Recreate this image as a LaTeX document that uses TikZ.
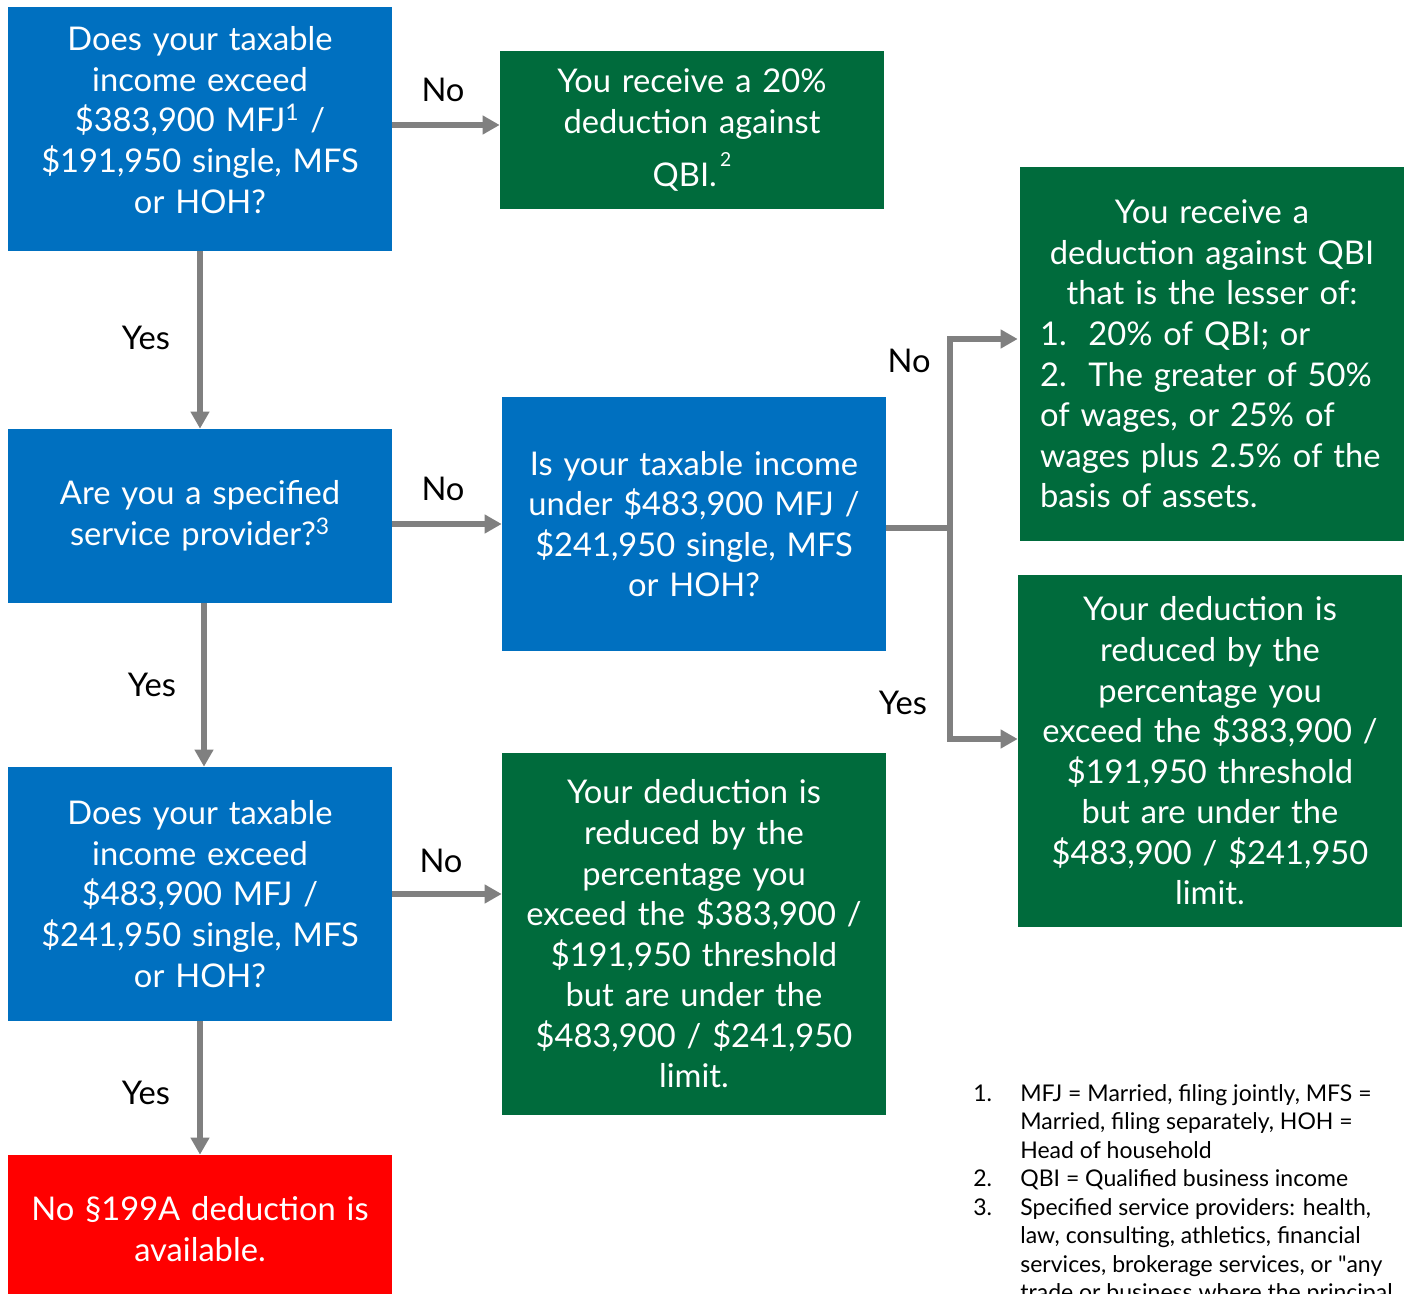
\documentclass[tikz,border=0pt]{standalone}
\usepackage{fontspec}
\setmainfont{Lato}
\usetikzlibrary{arrows.meta,calc,positioning}
\definecolor{FlowBlue}{HTML}{0070C0}
\definecolor{FlowGreen}{HTML}{006B3C}
\definecolor{FlowRed}{HTML}{FF0000}
\definecolor{FlowGray}{HTML}{808080}
\newcommand{\QBIText}{\fontsize{18.6}{23.1}\selectfont}
\newcommand{\QBINote}{\fontsize{13.1}{16.2}\selectfont}
\tikzset{
  qbase/.style={
    rectangle,
    draw=none,
    align=center,
    inner sep=0pt,
    text=white,
    font=\QBIText,
    text width=7.6cm,
    minimum width=7.68cm
  },
  askbox/.style={qbase, fill=FlowBlue},
  resultbox/.style={qbase, fill=FlowGreen},
  stopbox/.style={qbase, fill=FlowRed},
  flowarrow/.style={
    -{Triangle[length=0.34cm,width=0.36cm]},
    draw=FlowGray,
    line width=0.12cm
  },
  branchline/.style={draw=FlowGray, line width=0.12cm},
  choicelabel/.style={font=\QBIText, text=black, inner sep=0pt}
}

\begin{document}
\begin{tikzpicture}[x=0.02cm,y=-0.02cm]
\clip (0,0) rectangle (1406,1294);

% question column
\node[askbox, minimum height=4.88cm] (exceedlow) at (200,129)
  {Does your taxable\\income exceed\\\$383,900 MFJ\textsuperscript{1} /\\\$191,950 single, MFS\\or HOH?\par\vspace*{0.36cm}};
\node[askbox, minimum height=3.48cm] (provider) at (200,516)
  {Are you a specified\\service provider?\textsuperscript{3}};
\node[askbox, minimum height=5.08cm] (exceedhigh) at (200,894)
  {Does your taxable\\income exceed\\\$483,900 MFJ /\\\$241,950 single, MFS\\or HOH?};
\node[stopbox, minimum height=2.96cm] (nodeduct) at (200,1229)
  {No \S199A deduction is\\available.};

% middle column
\node[resultbox, minimum height=3.16cm] (fullded) at (692,130)
  {You receive a 20\%\\deduction against\\[0.24cm]QBI.\raisebox{1.2ex}{\fontsize{11}{11}\selectfont\,2}};
\node[askbox, minimum height=5.08cm] (underhigh) at (694,524)
  {Is your taxable income\\under \$483,900 MFJ /\\\$241,950 single, MFS\\or HOH?};
\node[resultbox, minimum height=7.24cm] (reducedmid) at (694,934)
  {Your deduction is\\reduced by the\\percentage you\\exceed the \$383,900 /\\\$191,950 threshold\\but are under the\\\$483,900 / \$241,950\\limit.};

% right column
\node[resultbox, minimum height=7.48cm, text width=6.88cm, align=left] (lesserded) at (1212,354)
  {{\centering You receive a\\deduction against QBI\\that is the lesser of:\par}
  1.\ \ 20\% of QBI; or\\
  2.\ \ The greater of 50\%\\
  of wages, or 25\% of\\
  wages plus 2.5\% of the\\
  basis of assets.};
\node[resultbox, minimum height=7.04cm] (reducedright) at (1210,751)
  {Your deduction is\\reduced by the\\percentage you\\exceed the \$383,900 /\\\$191,950 threshold\\but are under the\\\$483,900 / \$241,950\\limit.};

% connectors
\draw[flowarrow] (exceedlow.east |- fullded.west) ++(0,-5) coordinate (nolow) -- (fullded.west |- nolow);
\draw[flowarrow] (exceedlow.south) -- (provider.north);
\draw[flowarrow] (provider.east |- underhigh.west) -- (underhigh.west);
\draw[flowarrow] ($(provider.south)+(4,0)$) -- ($(exceedhigh.north)+(4,0)$);
\draw[flowarrow] (exceedhigh.east) -- (reducedmid.west |- exceedhigh.east);
\draw[flowarrow] (exceedhigh.south) -- (nodeduct.north);

\coordinate (fork) at (950,528);
\draw[branchline] (underhigh.east |- fork) -- (fork);
\draw[flowarrow] (fork) |- ($(lesserded.west)+(-2,-15)$);
\draw[flowarrow] (fork) |- ($(reducedright.west)+(0,-12)$);

% answer labels
\node[choicelabel] at (443,90) {No};
\node[choicelabel] at (146,338) {Yes};
\node[choicelabel] at (443,489) {No};
\node[choicelabel] at (152,685) {Yes};
\node[choicelabel] at (441,861) {No};
\node[choicelabel] at (146,1093) {Yes};
\node[choicelabel] at (909,361) {No};
\node[choicelabel] at (903,703) {Yes};

% footnotes
\node[font=\QBINote, inner sep=0pt, anchor=north west] (notes) at (973,1081)
  {\begin{tabular}{@{}p{0.94cm}@{}p{8cm}@{}}
   1. & MFJ = Married, filing jointly, MFS =\newline Married, filing separately, HOH =\newline Head of household\\
   2. & QBI = Qualified business income\\
   3. & Specified service providers: health,\newline law, consulting, athletics, financial\newline services, brokerage services, or \textquotedbl any\newline trade or business where the principal
   \end{tabular}};

\end{tikzpicture}
\end{document}
